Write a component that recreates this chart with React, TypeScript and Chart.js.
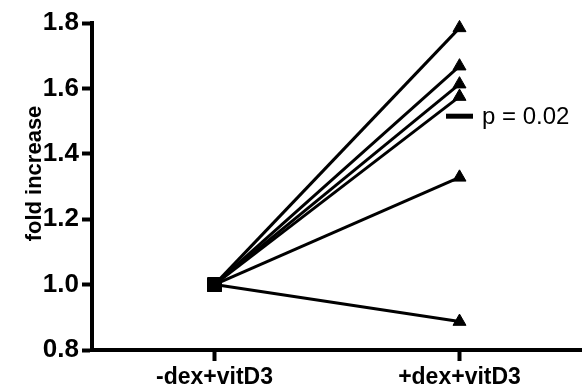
import React, { useEffect, useRef } from "react";
import { Chart, registerables } from "chart.js";

Chart.register(...registerables);

// ---- data ----
const categories = ["-dex+vitD3", "+dex+vitD3"];
const baselineValues = [1.0, 1.0, 1.0, 1.0, 1.0, 1.0];
const treatedValues = [1.785, 1.668, 1.613, 1.575, 1.328, 0.887];
const yTickValues = [0.8, 1.0, 1.2, 1.4, 1.6, 1.8];
const yMin = 0.8;
const yMax = 1.8;
const yTitle = "fold increase";
const pValueLabel = "p = 0.02";
const pValueY = 1.515;

const FONT = "'Liberation Sans', Arial, Helvetica, sans-serif";

const annotationPlugin = {
  id: "annotations",
  afterDraw(chart: any) {
    const ctx = chart.ctx;
    const xs = chart.scales.x;
    const ys = chart.scales.y;
    const area = chart.chartArea;
    ctx.save();
    // p-value text next to the dash
    ctx.fillStyle = "#000";
    ctx.font = `24px ${FONT}`;
    ctx.textAlign = "left";
    ctx.textBaseline = "middle";
    ctx.fillText(pValueLabel, xs.getPixelForValue(1) + 22.5, ys.getPixelForValue(pValueY) + 1);
    // y-axis title
    ctx.font = `bold 22px ${FONT}`;
    ctx.textAlign = "center";
    ctx.textBaseline = "middle";
    ctx.translate(area.left - 57, (area.top + area.bottom) / 2 - 13);
    ctx.rotate(-Math.PI / 2);
    ctx.fillText(yTitle, 0, 0);
    ctx.restore();
  },
};

export default function App() {
  const canvasRef = useRef<HTMLCanvasElement | null>(null);

  useEffect(() => {
    document.body.style.margin = "0";
    const canvas = canvasRef.current;
    if (!canvas) return;

    const pairDatasets = baselineValues.map((b, i) => ({
      type: "line" as const,
      data: [b, treatedValues[i]],
      borderColor: "#000",
      borderWidth: 3,
      pointStyle: ["rect", "triangle"],
      pointRadius: [9.5, 7.5],
      pointHoverRadius: [9.5, 7.5],
      pointBackgroundColor: "#000",
      pointBorderColor: "#000",
      pointBorderWidth: 1,
      fill: false,
      tension: 0,
      clip: false,
    }));

    const dashDataset = {
      type: "line" as const,
      data: [null, pValueY],
      showLine: false,
      borderColor: "#000",
      pointStyle: "line",
      pointRadius: 13.5,
      pointHoverRadius: 13.5,
      pointBorderWidth: 5,
      pointBorderColor: "#000",
      pointBackgroundColor: "#000",
      clip: false,
    };

    const chart = new Chart(canvas, {
      type: "line",
      data: {
        labels: categories,
        datasets: [...pairDatasets, dashDataset] as any,
      },
      plugins: [annotationPlugin],
      options: {
        animation: false,
        responsive: false,
        devicePixelRatio: 1,
        events: [],
        layout: { autoPadding: false, padding: { top: 23, right: 0, left: 0, bottom: 0 } },
        plugins: {
          legend: { display: false },
          tooltip: { enabled: false },
          title: { display: false },
        },
        scales: {
          x: {
            type: "category",
            offset: true,
            afterFit(scale: any) {
              scale.height = 37;
              scale.paddingLeft = 0;
              scale.paddingRight = 0;
            },
            border: { display: true, color: "#000", width: 4 },
            grid: {
              display: true,
              drawOnChartArea: false,
              drawTicks: true,
              tickLength: 11,
              tickWidth: 4,
              tickColor: "#000",
              color: "#000",
            },
            ticks: {
              color: "#000",
              padding: 3,
              maxRotation: 0,
              autoSkip: false,
              font: { family: FONT, size: 23, weight: "bold" },
            },
          },
          y: {
            type: "linear",
            min: yMin,
            max: yMax,
            afterFit(scale: any) {
              scale.width = 92;
            },
            afterBuildTicks(scale: any) {
              scale.ticks = yTickValues.map((v) => ({ value: v }));
            },
            border: { display: true, color: "#000", width: 4 },
            grid: {
              display: true,
              drawOnChartArea: false,
              drawTicks: true,
              tickLength: 10,
              tickWidth: 4,
              tickColor: "#000",
              color: "#000",
            },
            ticks: {
              color: "#000",
              padding: 3,
              font: { family: FONT, size: 26, weight: "bold" },
              callback: (v: any) => Number(v).toFixed(1),
            },
          },
        },
      } as any,
    });

    return () => chart.destroy();
  }, []);

  return (
    <div style={{ width: 582, height: 387, background: "#fff" }}>
      <canvas ref={canvasRef} width={582} height={387} style={{ width: 582, height: 387, display: "block" }} />
    </div>
  );
}
